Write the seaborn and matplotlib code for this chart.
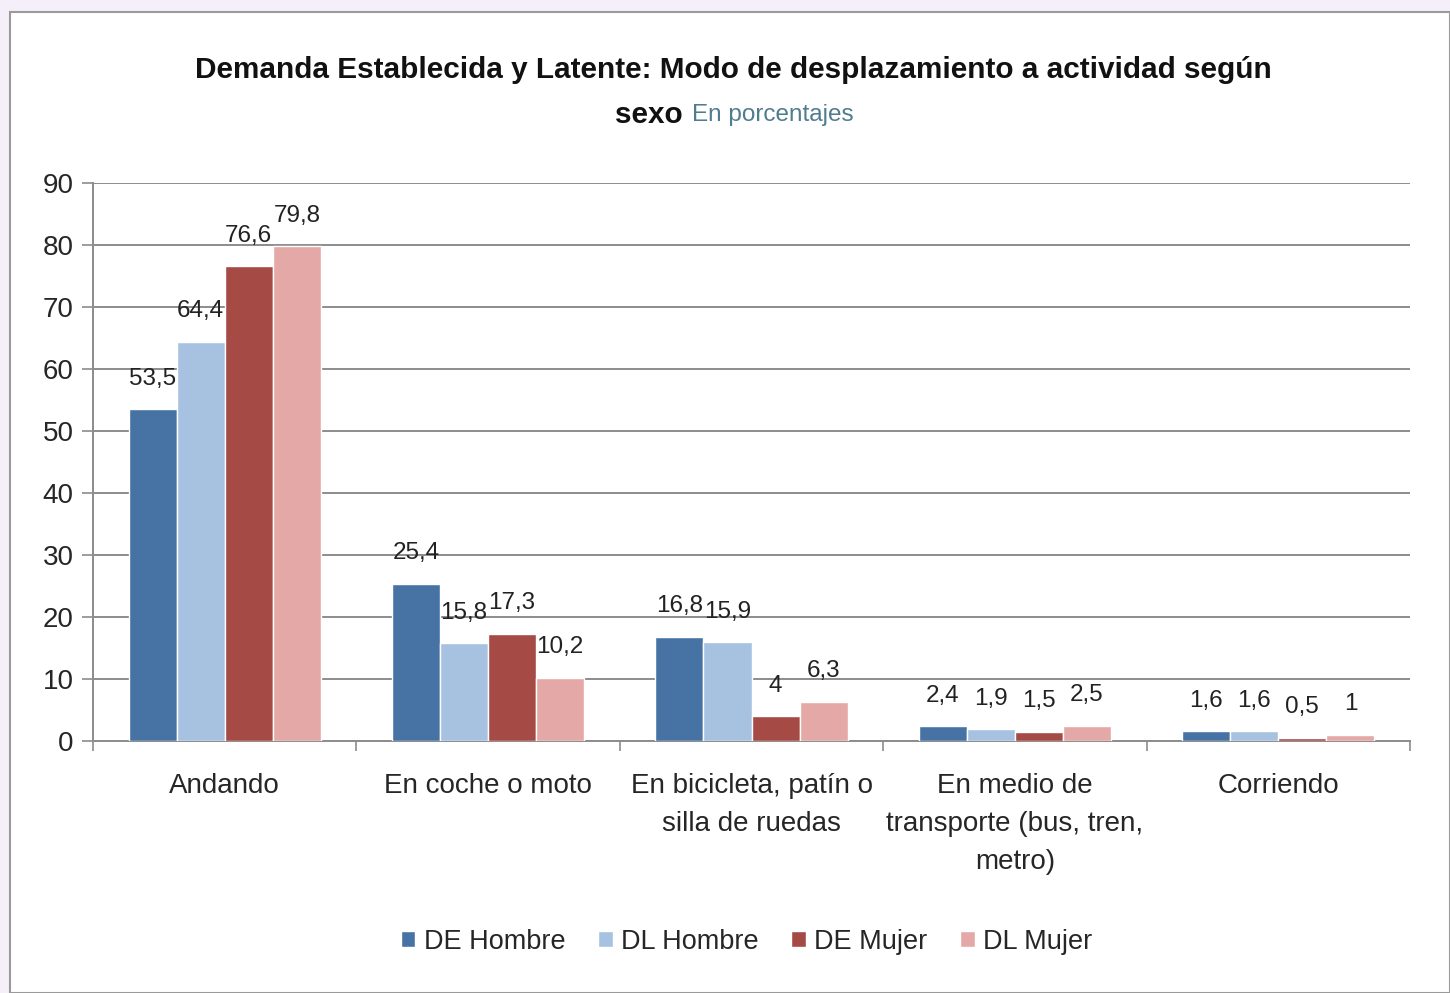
import numpy as np
import pandas as pd
import matplotlib
matplotlib.use('Agg')
import matplotlib.pyplot as plt
import seaborn as sns
from matplotlib.patches import Rectangle

# Données
categorias = ['Andando', 'En coche o moto', 'En bicicleta, patín o\nsilla de ruedas',
              'En medio de\ntransporte (bus, tren,\nmetro)', 'Corriendo']
series = ['DE Hombre', 'DL Hombre', 'DE Mujer', 'DL Mujer']
de_hombre = [53.5, 25.4, 16.8, 2.4, 1.6]
dl_hombre = [64.4, 15.8, 15.9, 1.9, 1.6]
de_mujer = [76.6, 17.3, 4.0, 1.5, 0.5]
dl_mujer = [79.8, 10.2, 6.3, 2.5, 1.0]
colores = ['#4673a4', '#a7c1e1', '#a64a45', '#e4a8a7']

valores = [de_hombre, dl_hombre, de_mujer, dl_mujer]
df = pd.DataFrame({
    'cat': np.tile(categorias, len(series)),
    'serie': np.repeat(series, len(categorias)),
    'valor': np.concatenate(valores),
})

sns.set_style('white')
plt.rcParams['font.family'] = ['Liberation Sans Narrow', 'Liberation Sans', 'DejaVu Sans']

fig = plt.figure(figsize=(14.5, 9.93), dpi=100)
fig.patch.set_facecolor('#f4eff8')
# Cadre blanc du graphique
fig.patches.append(Rectangle((10 / 1450, 0), 1 - 10 / 1450, 1 - 12 / 993, transform=fig.transFigure,
                             facecolor='white', edgecolor='#9a9a9a', linewidth=1.5, zorder=-5))

ax = fig.add_axes([93 / 1450, 1 - 741 / 993, (1410 - 93) / 1450, (741 - 183) / 993])
ax.set_zorder(2)
ax.set_facecolor('white')

sns.barplot(data=df, x='cat', y='valor', hue='serie', palette=colores, width=0.73,
            gap=0, saturation=1, ax=ax, zorder=3)

# Étiquettes de valeurs
for cont in ax.containers:
    etiquetas = [f'{v:g}'.replace('.', ',') for v in cont.datavalues]
    ax.bar_label(cont, labels=etiquetas, padding=14, fontsize=17.5, color='#222222')

ax.set_ylim(0, 90)
ax.set_xlim(-0.5, 4.5)
ax.set_yticks(range(0, 91, 10))
ax.yaxis.grid(True, color='#8c8c8c', linewidth=1.4, zorder=0)
ax.set_axisbelow(True)
ax.tick_params(axis='y', labelsize=20, length=8, color='#8c8c8c', width=1.2, pad=6, left=True)
ax.tick_params(axis='x', which='major', labelsize=20, length=0, pad=23)
ax.set_xticks(np.arange(-0.5, 5, 1), minor=True)
ax.tick_params(axis='x', which='minor', length=7, color='#8c8c8c', width=1.2, bottom=True, direction='out')
for lab in ax.get_xticklabels():
    lab.set_linespacing(1.6)
ax.set_xlabel('')
ax.set_ylabel('')
for s in ['top', 'right']:
    ax.spines[s].set_visible(False)
ax.spines['left'].set_color('#8c8c8c')
ax.spines['bottom'].set_color('#8c8c8c')
ax.spines['left'].set_linewidth(1.4)
ax.spines['bottom'].set_linewidth(1.4)

# Légende
ax.legend(loc='center', bbox_to_anchor=(0.496, -0.36), ncol=4, frameon=False, fontsize=19.5,
          handlelength=0.55, handleheight=0.55, handletextpad=0.3, columnspacing=1.2)

# Titre
fig.text(0.506, 1 - 70 / 993, 'Demanda Establecida y Latente: Modo de desplazamiento a actividad según',
         ha='center', va='center', fontsize=21.4, fontweight='bold', color='#111111')
fig.text(0.471, 1 - 115 / 993, 'sexo', ha='right', va='center', fontsize=21.4, fontweight='bold', color='#111111')
fig.text(0.477, 1 - 115 / 993, 'En porcentajes', ha='left', va='center', fontsize=17.5, color='#4f7d8f')

plt.savefig('out.png', dpi=100, facecolor=fig.get_facecolor())
